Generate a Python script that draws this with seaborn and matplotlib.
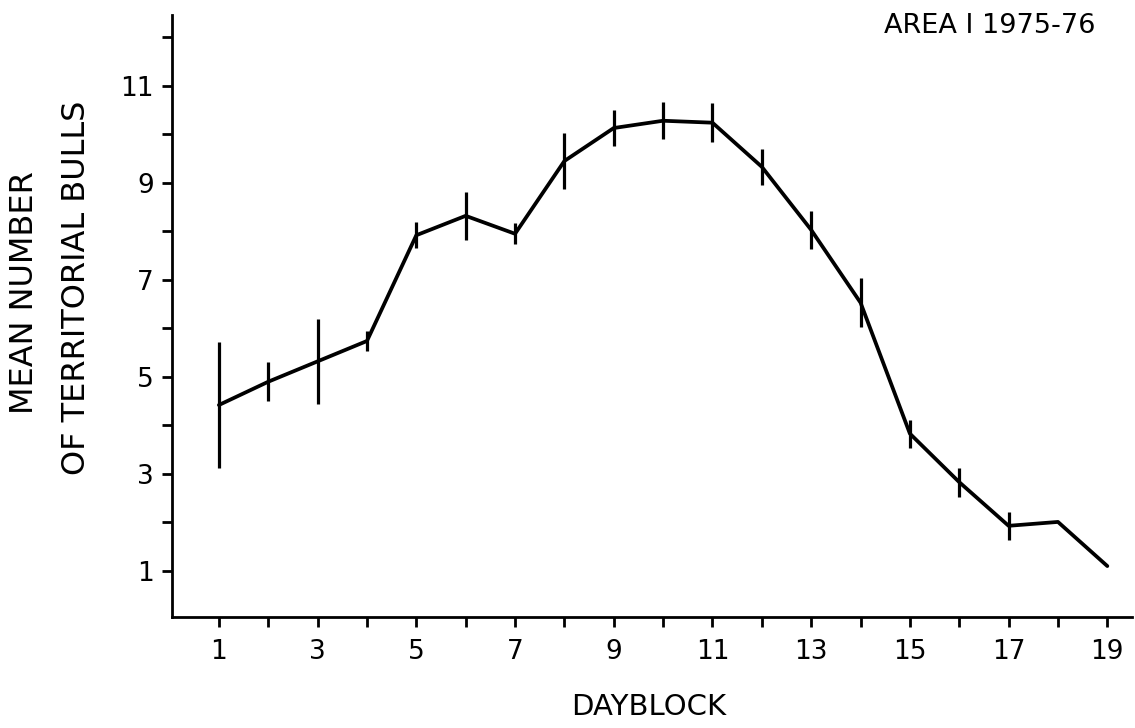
import matplotlib
matplotlib.use("Agg")
import matplotlib.pyplot as plt
import numpy as np
import pandas as pd
import seaborn as sns

# Mean number of territorial bulls per dayblock, with error bars
dayblock = [1, 2, 3, 4, 5, 6, 7, 8, 9, 10, 11, 12, 13, 14, 15, 16, 17, 18, 19]
mean_bulls = [4.42, 4.90, 5.32, 5.74, 7.92, 8.32, 7.95, 9.45, 10.13, 10.28, 10.24,
              9.33, 8.03, 6.53, 3.83, 2.83, 1.93, 2.01, 1.10]
err_bulls = [1.30, 0.40, 0.88, 0.20, 0.27, 0.50, 0.22, 0.58, 0.38, 0.38, 0.40,
             0.37, 0.39, 0.50, 0.29, 0.30, 0.29, 0.0, 0.0]

x_ticks = list(range(1, 20))
x_labels = [str(v) if v % 2 == 1 else "" for v in x_ticks]
y_ticks = list(range(1, 13))
y_labels = [str(v) if v % 2 == 1 and v <= 11 else "" for v in y_ticks]

title_text = "AREA I 1975-76"
x_title = "DAYBLOCK"
y_title_1 = "MEAN NUMBER"
y_title_2 = "OF TERRITORIAL BULLS"

df = pd.DataFrame({"dayblock": dayblock, "mean": mean_bulls, "err": err_bulls})

sns.set_style("ticks")
plt.rcParams["font.family"] = ["DejaVu Sans"]

fig = plt.figure(figsize=(11.35, 7.28), dpi=100)
ax = fig.add_axes([172 / 1135, 1 - 617 / 728, (1132 - 172) / 1135, (617 - 15) / 728])

sns.lineplot(data=df, x="dayblock", y="mean", ax=ax, color="black",
             linewidth=2.7, errorbar=None)
has_err = df["err"] > 0
ax.errorbar(df.loc[has_err, "dayblock"], df.loc[has_err, "mean"],
            yerr=df.loc[has_err, "err"], fmt="none", ecolor="black",
            elinewidth=2.3, capsize=0)

ax.set_xlim(0.05, 19.5)
ax.set_ylim(0.05, 12.46)
ax.set_xticks(x_ticks)
ax.set_xticklabels(x_labels, fontsize=19)
ax.set_yticks(y_ticks)
ax.set_yticklabels(y_labels, fontsize=19)
ax.tick_params(axis="x", direction="out", length=7, width=2.0, pad=9, colors="black")
ax.tick_params(axis="y", direction="out", length=7, width=2.0, pad=6, colors="black")
ax.set_xlabel("")
ax.set_ylabel("")

for side in ("top", "right"):
    ax.spines[side].set_visible(False)
for side in ("left", "bottom"):
    ax.spines[side].set_linewidth(2.0)
    ax.spines[side].set_color("black")

fig.text(1095 / 1135, 1 - 26 / 728, title_text, ha="right", va="center",
         fontsize=19.5, color="black")
fig.text(649 / 1135, 1 - 707 / 728, x_title, ha="center", va="center",
         fontsize=21, color="black")
fig.text(25 / 1135, 1 - 293 / 728, y_title_1, ha="center", va="center",
         rotation=90, fontsize=23, color="black")
fig.text(77 / 1135, 1 - 288 / 728, y_title_2, ha="center", va="center",
         rotation=90, fontsize=23, color="black")

fig.savefig("out.png", dpi=100, facecolor="white")
